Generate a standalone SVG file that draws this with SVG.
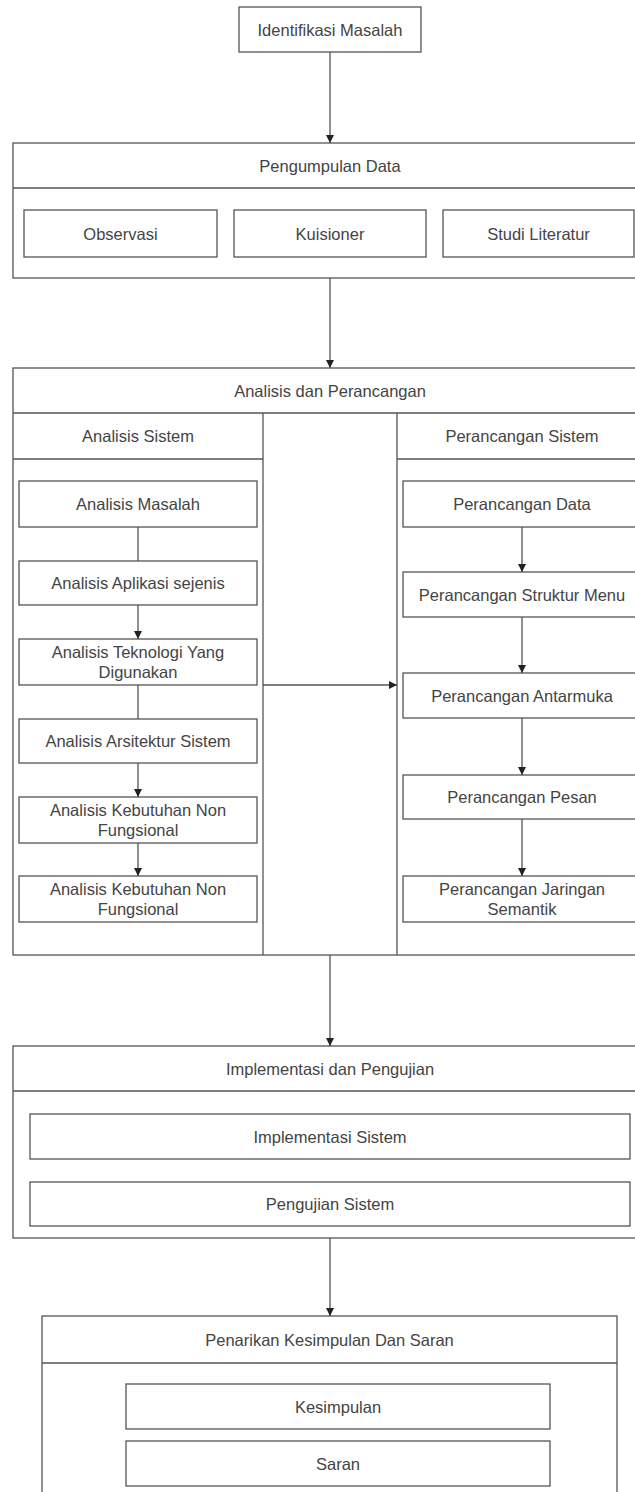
<svg xmlns="http://www.w3.org/2000/svg" width="635" height="1492" viewBox="0 0 635 1492">
<style>
rect{fill:#fff;stroke:#555;stroke-width:1.3}
line,path.c{stroke:#555;stroke-width:1.3;fill:none}
text{font-family:"Liberation Sans",Arial,sans-serif;font-size:16.5px;fill:#444;text-anchor:middle;dominant-baseline:central}
</style>
<defs>
<marker id="ah" markerUnits="userSpaceOnUse" markerWidth="8" markerHeight="8" refX="8" refY="4" orient="auto">
<path d="M0,0 L8,4 L0,8 z" fill="#222"/>
</marker>
</defs>
<rect width="635" height="1492" style="stroke:none"/>

<g id="identifikasi">
<rect x="239" y="7" width="182" height="45"/>
<text x="330" y="29.5">Identifikasi Masalah</text>
</g>

<g id="pengumpulan">
<rect x="13" y="143" width="634" height="135"/>
<line x1="13" y1="188" x2="647" y2="188"/>
<text x="330" y="165.5">Pengumpulan Data</text>
</g>
<g id="observasi"><rect x="24" y="210" width="193" height="47"/><text x="120.5" y="233.5">Observasi</text></g>
<g id="kuisioner"><rect x="234" y="210" width="192" height="47"/><text x="330" y="233.5">Kuisioner</text></g>
<g id="studi"><rect x="443" y="210" width="191" height="47"/><text x="538.5" y="233.5">Studi Literatur</text></g>

<g id="analisis-perancangan">
<rect x="13" y="368" width="634" height="587"/>
<line x1="13" y1="413" x2="647" y2="413"/>
<text x="330" y="390.5">Analisis dan Perancangan</text>
<line x1="263" y1="413" x2="263" y2="955"/>
<line x1="397" y1="413" x2="397" y2="955"/>
<line x1="13" y1="459" x2="263" y2="459"/>
<line x1="397" y1="459" x2="647" y2="459"/>
<text x="138" y="436">Analisis Sistem</text>
<text x="522" y="436">Perancangan Sistem</text>
</g>

<g id="analisis-masalah"><rect x="19" y="481" width="238" height="46"/><text x="138" y="504">Analisis Masalah</text></g>
<g id="analisis-aplikasi"><rect x="19" y="561" width="238" height="44"/><text x="138" y="583">Analisis Aplikasi sejenis</text></g>
<g id="analisis-teknologi"><rect x="19" y="639" width="238" height="46"/><text x="138" y="652">Analisis Teknologi Yang</text><text x="138" y="672">Digunakan</text></g>
<g id="analisis-arsitektur"><rect x="19" y="719" width="238" height="44"/><text x="138" y="741">Analisis Arsitektur Sistem</text></g>
<g id="analisis-kebutuhan-1"><rect x="19" y="797" width="238" height="46"/><text x="138" y="810">Analisis Kebutuhan Non</text><text x="138" y="830">Fungsional</text></g>
<g id="analisis-kebutuhan-2"><rect x="19" y="876" width="238" height="46"/><text x="138" y="889">Analisis Kebutuhan Non</text><text x="138" y="909">Fungsional</text></g>

<g id="perancangan-data"><rect x="403" y="481" width="238" height="46"/><text x="522" y="504">Perancangan Data</text></g>
<g id="perancangan-menu"><rect x="403" y="572" width="238" height="45"/><text x="522" y="594.5">Perancangan Struktur Menu</text></g>
<g id="perancangan-antarmuka"><rect x="403" y="673" width="238" height="45"/><text x="522" y="695.5">Perancangan Antarmuka</text></g>
<g id="perancangan-pesan"><rect x="403" y="775" width="238" height="44"/><text x="522" y="797">Perancangan Pesan</text></g>
<g id="perancangan-jaringan"><rect x="403" y="876" width="238" height="46"/><text x="522" y="889">Perancangan Jaringan</text><text x="522" y="909">Semantik</text></g>

<g id="implementasi-pengujian">
<rect x="13" y="1046" width="634" height="192"/>
<line x1="13" y1="1091" x2="647" y2="1091"/>
<text x="330" y="1068.5">Implementasi dan Pengujian</text>
</g>
<g id="implementasi-sistem"><rect x="30" y="1114" width="600" height="45"/><text x="330" y="1136.5">Implementasi Sistem</text></g>
<g id="pengujian-sistem"><rect x="30" y="1182" width="600" height="44"/><text x="330" y="1204">Pengujian Sistem</text></g>

<g id="penarikan">
<rect x="42" y="1316" width="575" height="200"/>
<line x1="42" y1="1363" x2="617" y2="1363"/>
<text x="329.5" y="1339.5">Penarikan Kesimpulan Dan Saran</text>
</g>
<g id="kesimpulan"><rect x="126" y="1384" width="424" height="45"/><text x="338" y="1406.5">Kesimpulan</text></g>
<g id="saran"><rect x="126" y="1441" width="424" height="45"/><text x="338" y="1463.5">Saran</text></g>

<g id="connectors">
<line x1="330" y1="52" x2="330" y2="143" marker-end="url(#ah)"/>
<line x1="330" y1="278" x2="330" y2="368" marker-end="url(#ah)"/>
<line x1="330" y1="955" x2="330" y2="1046" marker-end="url(#ah)"/>
<line x1="330" y1="1238" x2="330" y2="1316" marker-end="url(#ah)"/>
<line x1="138" y1="527" x2="138" y2="561"/>
<line x1="138" y1="605" x2="138" y2="639" marker-end="url(#ah)"/>
<line x1="138" y1="685" x2="138" y2="719"/>
<line x1="138" y1="763" x2="138" y2="797" marker-end="url(#ah)"/>
<line x1="138" y1="843" x2="138" y2="876" marker-end="url(#ah)"/>
<line x1="522" y1="527" x2="522" y2="572" marker-end="url(#ah)"/>
<line x1="522" y1="617" x2="522" y2="673" marker-end="url(#ah)"/>
<line x1="522" y1="718" x2="522" y2="775" marker-end="url(#ah)"/>
<line x1="522" y1="819" x2="522" y2="876" marker-end="url(#ah)"/>
<line x1="263" y1="685" x2="397" y2="685" marker-end="url(#ah)"/>
</g>
</svg>
